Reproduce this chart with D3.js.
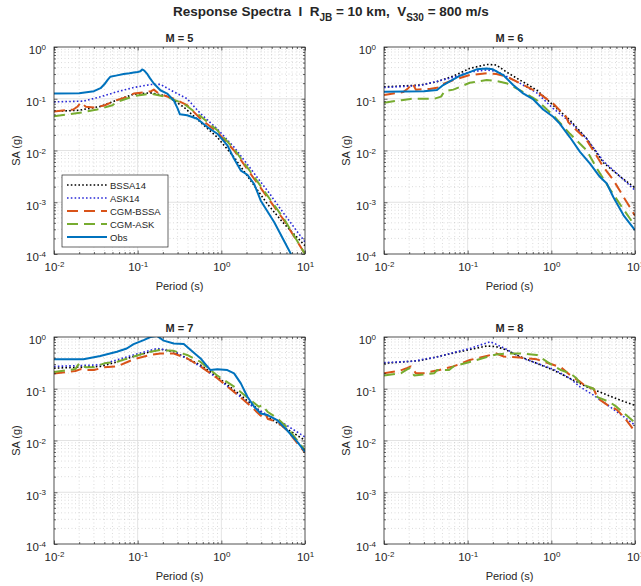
<!doctype html>
<html lang="en">
<head>
<meta charset="utf-8">
<title>Response Spectra</title>
<script src="https://d3js.org/d3.v7.min.js"></script>
<style>
  body { margin: 0; background: #fff; }
  text { font-family: "Liberation Sans", Arial, Helvetica, sans-serif; fill: #262626; }
</style>
</head>
<body>
<svg width="641" height="586"></svg>
<script>
// ---- data: [period (s), SA (g)] ----
var seriesNames = ['BSSA14', 'ASK14', 'CGM-BSSA', 'CGM-ASK', 'Obs'];
var panelTitles = ['M = 5', 'M = 6', 'M = 7', 'M = 8'];
var xTickExp = [-2, -1, 0, 1];
var yTickExp = [-4, -3, -2, -1, 0];

var bssa5 = [[0.01,0.057],[0.02,0.06],[0.0357,0.071],[0.0565,0.094],[0.0895,0.122],[0.142,0.13],[0.225,0.112],[0.356,0.069],[0.565,0.035],[0.895,0.018],[1.42,0.0074],[2.25,0.0026],[3.56,0.00092],[5.65,0.00038],[10,0.000145]];
var ask5 = [[0.01,0.087],[0.0225,0.09],[0.0357,0.109],[0.0565,0.136],[0.0895,0.165],[0.142,0.188],[0.187,0.19],[0.27,0.136],[0.39,0.1],[0.565,0.0515],[0.895,0.026],[1.42,0.0116],[2.25,0.0044],[3.56,0.00167],[5.65,0.00059],[10,0.00017]];
var cgmb5 = [[0.01,0.057],[0.017,0.062],[0.019,0.07],[0.021,0.085],[0.024,0.07],[0.03,0.068],[0.04,0.074],[0.047,0.083],[0.056,0.094],[0.07,0.105],[0.09,0.126],[0.125,0.135],[0.145,0.14],[0.156,0.15],[0.18,0.125],[0.27,0.1],[0.39,0.075],[0.565,0.041],[0.895,0.0227],[1.42,0.01],[2.25,0.0035],[3.56,0.00124],[5.65,0.00044],[10,0.0001]];
var cgma5 = [[0.01,0.046],[0.0225,0.055],[0.0357,0.064],[0.05,0.075],[0.0565,0.087],[0.0895,0.112],[0.142,0.126],[0.225,0.108],[0.356,0.08],[0.565,0.046],[0.895,0.0245],[1.42,0.0107],[2.25,0.0038],[3.56,0.00134],[5.65,0.00047],[10,0.0001]];
var obs5 = [[0.01,0.126],[0.02,0.128],[0.03,0.14],[0.036,0.16],[0.04,0.19],[0.044,0.235],[0.047,0.265],[0.055,0.28],[0.068,0.3],[0.08,0.31],[0.09,0.32],[0.1,0.33],[0.108,0.34],[0.113,0.368],[0.12,0.35],[0.129,0.307],[0.14,0.25],[0.156,0.197],[0.187,0.146],[0.225,0.126],[0.27,0.093],[0.3,0.065],[0.32,0.05],[0.39,0.048],[0.515,0.041],[0.68,0.0284],[0.895,0.0211],[1.18,0.0126],[1.42,0.0069],[1.71,0.0041],[2.05,0.0034],[2.47,0.00225],[2.96,0.00107],[4.29,0.00041],[6.79,0.0001],[10,0.00004]];

var bssa6 = [[0.01,0.17],[0.027,0.184],[0.043,0.213],[0.0675,0.275],[0.106,0.386],[0.169,0.46],[0.22,0.45],[0.29,0.33],[0.42,0.23],[0.67,0.147],[1.05,0.075],[1.67,0.0386],[2.64,0.017],[4.2,0.0058],[6.7,0.0031],[10,0.0019]];
var ask6 = [[0.01,0.165],[0.027,0.18],[0.0675,0.26],[0.106,0.33],[0.169,0.36],[0.22,0.34],[0.29,0.27],[0.42,0.2],[0.67,0.13],[1.05,0.065],[1.67,0.036],[2.64,0.017],[4.2,0.0062],[6.7,0.0031],[10,0.0017]];
var cgmb6 = [[0.01,0.118],[0.017,0.135],[0.0195,0.16],[0.022,0.198],[0.024,0.15],[0.035,0.155],[0.045,0.165],[0.05,0.19],[0.0675,0.23],[0.106,0.287],[0.169,0.31],[0.22,0.3],[0.29,0.27],[0.42,0.2],[0.67,0.137],[1.05,0.081],[1.5,0.045],[1.6,0.035],[2.64,0.016],[4.2,0.0048],[5.5,0.0027],[7.3,0.00127],[10,0.00055]];
var cgma6 = [[0.01,0.084],[0.017,0.095],[0.022,0.1],[0.03,0.1],[0.04,0.1],[0.048,0.11],[0.053,0.14],[0.0675,0.15],[0.106,0.204],[0.169,0.23],[0.22,0.22],[0.29,0.2],[0.42,0.147],[0.67,0.094],[1.05,0.048],[1.67,0.021],[2.64,0.0101],[3.5,0.0045],[5,0.0018],[7,0.0008],[10,0.00035]];
var obs6 = [[0.01,0.137],[0.03,0.14],[0.043,0.147],[0.051,0.184],[0.0675,0.237],[0.081,0.279],[0.097,0.31],[0.128,0.37],[0.169,0.386],[0.2,0.37],[0.266,0.287],[0.35,0.184],[0.46,0.127],[0.61,0.097],[0.8,0.062],[1.05,0.045],[1.26,0.033],[1.67,0.018],[2.2,0.0094],[2.9,0.0056],[3.8,0.0031],[4.6,0.0023],[5.5,0.00126],[7.3,0.00056],[10,0.00029]];

var bssa7 = [[0.01,0.25],[0.0357,0.27],[0.0565,0.33],[0.0895,0.42],[0.142,0.52],[0.187,0.58],[0.27,0.52],[0.39,0.386],[0.565,0.287],[0.895,0.17],[1.42,0.094],[2.25,0.052],[3.56,0.0287],[5.65,0.018],[10,0.0101]];
var ask7 = [[0.01,0.27],[0.0357,0.29],[0.0895,0.45],[0.17,0.6],[0.27,0.53],[0.565,0.27],[0.895,0.16],[1.42,0.088],[2.25,0.048],[3.56,0.031],[5.65,0.021],[10,0.0117]];
var cgmb7 = [[0.01,0.198],[0.018,0.22],[0.021,0.24],[0.024,0.23],[0.03,0.23],[0.04,0.26],[0.0565,0.27],[0.0895,0.37],[0.142,0.45],[0.187,0.48],[0.27,0.48],[0.39,0.386],[0.565,0.27],[0.895,0.16],[1.42,0.087],[2.25,0.046],[2.96,0.03],[3.3,0.035],[3.6,0.026],[4.65,0.023],[6.1,0.0158],[10,0.0058]];
var cgma7 = [[0.01,0.21],[0.018,0.24],[0.02,0.31],[0.024,0.26],[0.03,0.26],[0.04,0.31],[0.0565,0.33],[0.0895,0.42],[0.142,0.52],[0.187,0.56],[0.27,0.54],[0.39,0.45],[0.565,0.33],[0.895,0.18],[1.42,0.11],[2.25,0.06],[2.8,0.045],[3.1,0.048],[3.56,0.036],[4.65,0.027],[6.1,0.018],[10,0.0065]];
var obs7 = [[0.01,0.37],[0.0225,0.37],[0.0357,0.43],[0.0565,0.52],[0.074,0.6],[0.0895,0.73],[0.118,0.87],[0.142,1.0],[0.17,1.05],[0.205,0.85],[0.27,0.75],[0.356,0.73],[0.43,0.56],[0.565,0.386],[0.74,0.23],[0.895,0.237],[1.18,0.23],[1.42,0.198],[1.71,0.127],[2.05,0.07],[2.47,0.045],[2.96,0.0333],[3.56,0.031],[4.65,0.0248],[6.1,0.0158],[8.1,0.0094],[10,0.006]];

var bssa8 = [[0.01,0.31],[0.027,0.35],[0.0675,0.49],[0.106,0.57],[0.169,0.67],[0.22,0.65],[0.29,0.56],[0.42,0.42],[0.67,0.31],[1.05,0.23],[1.67,0.158],[2.64,0.109],[4.2,0.081],[6.7,0.06],[10,0.048]];
var ask8 = [[0.01,0.32],[0.0225,0.34],[0.027,0.36],[0.043,0.41],[0.0675,0.5],[0.106,0.6],[0.153,0.73],[0.185,0.81],[0.22,0.72],[0.29,0.58],[0.42,0.41],[0.67,0.31],[1.05,0.24],[1.67,0.158],[2.2,0.109],[3.2,0.075],[5,0.045],[7.3,0.029],[10,0.0198]];
var cgmb8 = [[0.01,0.2],[0.015,0.22],[0.0187,0.25],[0.021,0.27],[0.024,0.2],[0.03,0.2],[0.04,0.22],[0.046,0.23],[0.05,0.24],[0.0675,0.27],[0.106,0.36],[0.169,0.43],[0.22,0.48],[0.27,0.42],[0.42,0.4],[0.67,0.37],[1.05,0.29],[1.3,0.26],[1.67,0.184],[2.2,0.137],[2.64,0.109],[3.2,0.1],[3.6,0.065],[5,0.045],[6,0.04],[7.3,0.029],[10,0.0148]];
var cgma8 = [[0.01,0.18],[0.016,0.2],[0.02,0.25],[0.023,0.18],[0.03,0.19],[0.04,0.2],[0.043,0.23],[0.06,0.23],[0.0675,0.27],[0.106,0.33],[0.169,0.41],[0.22,0.46],[0.29,0.48],[0.42,0.48],[0.67,0.45],[0.95,0.31],[1.3,0.23],[1.67,0.2],[2.0,0.16],[2.2,0.127],[3.2,0.1],[3.56,0.069],[5,0.055],[6,0.045],[10,0.022]];

var panels = [
  {bssa: bssa5, ask: ask5, cgmb: cgmb5, cgma: cgma5, obs: obs5},
  {bssa: bssa6, ask: ask6, cgmb: cgmb6, cgma: cgma6, obs: obs6},
  {bssa: bssa7, ask: ask7, cgmb: cgmb7, cgma: cgma7, obs: obs7},
  {bssa: bssa8, ask: ask8, cgmb: cgmb8, cgma: cgma8, obs: null}
];

// ---- styles ----
var styles = {
  'BSSA14':   {key: 'bssa', color: '#000000', dash: '1.6,2.2', width: 1.6},
  'ASK14':    {key: 'ask',  color: '#2a2ad8', dash: '1.6,2.2', width: 1.6},
  'CGM-BSSA': {key: 'cgmb', color: '#D95319', dash: '11,6',    width: 2},
  'CGM-ASK':  {key: 'cgma', color: '#77AC30', dash: '11,6',    width: 2},
  'Obs':      {key: 'obs',  color: '#0072BD', dash: null,      width: 2}
};

var svg = d3.select('svg');
var W = 251, H = 207;
var origins = [[54, 47], [384, 47], [54, 337], [384, 337]];

// main title
var title = svg.append('text')
  .attr('x', 331).attr('y', 16)
  .attr('text-anchor', 'middle')
  .attr('xml:space', 'preserve')
  .style('white-space', 'pre')
  .style('font-size', '13.5px').style('font-weight', 'bold');
title.append('tspan').text('Response Spectra  I  R');
title.append('tspan').attr('dy', 5).style('font-size', '10px').text('JB');
title.append('tspan').attr('dy', -5).text(' = 10 km,  V');
title.append('tspan').attr('dy', 5).style('font-size', '10px').text('S30');
title.append('tspan').attr('dy', -5).text(' = 800 m/s');

var minorVals = [];
[-2, -1, 0].forEach(function(e){ for (var k = 2; k <= 9; k++) minorVals.push(k * Math.pow(10, e)); });
var minorYVals = [];
[-4, -3, -2, -1].forEach(function(e){ for (var k = 2; k <= 9; k++) minorYVals.push(k * Math.pow(10, e)); });

function powLabel(sel) {
  sel.each(function(d) {
    var t = d3.select(this);
    var e = Math.round(Math.log10(d));
    t.text(null);
    t.append('tspan').text('10');
    t.append('tspan').attr('dy', '-0.55em').style('font-size', '8px').text(e);
  });
}

panels.forEach(function(p, pi) {
  var g = svg.append('g').attr('transform', 'translate(' + origins[pi][0] + ',' + origins[pi][1] + ')');
  var x = d3.scaleLog().domain([0.01, 10]).range([0, W]);
  var y = d3.scaleLog().domain([1e-4, 1]).range([H, 0]);

  // grid
  var grid = g.append('g');
  grid.selectAll('.mgx').data(minorVals).enter().append('line')
    .attr('x1', x).attr('x2', x).attr('y1', 0).attr('y2', H)
    .attr('stroke', '#c4c4c4').attr('stroke-width', 0.6).attr('stroke-dasharray', '1,2.5');
  grid.selectAll('.mgy').data(minorYVals).enter().append('line')
    .attr('y1', y).attr('y2', y).attr('x1', 0).attr('x2', W)
    .attr('stroke', '#c4c4c4').attr('stroke-width', 0.6).attr('stroke-dasharray', '1,2.5');
  grid.selectAll('.gx').data([0.1, 1]).enter().append('line')
    .attr('x1', x).attr('x2', x).attr('y1', 0).attr('y2', H)
    .attr('stroke', '#dcdcdc').attr('stroke-width', 0.8);
  grid.selectAll('.gy').data([1e-3, 1e-2, 1e-1]).enter().append('line')
    .attr('y1', y).attr('y2', y).attr('x1', 0).attr('x2', W)
    .attr('stroke', '#dcdcdc').attr('stroke-width', 0.8);

  // lines
  var clipId = 'clip' + pi;
  g.append('clipPath').attr('id', clipId).append('rect').attr('width', W).attr('height', H);
  var line = d3.line().x(function(d){ return x(d[0]); }).y(function(d){ return y(d[1]); });
  var lines = g.append('g').attr('clip-path', 'url(#' + clipId + ')');
  seriesNames.forEach(function(name) {
    var st = styles[name];
    var data = p[st.key];
    if (!data) return;
    lines.append('path').datum(data)
      .attr('d', line)
      .attr('fill', 'none')
      .attr('stroke', st.color)
      .attr('stroke-width', st.width)
      .attr('stroke-dasharray', st.dash)
      .attr('stroke-linejoin', 'round');
  });

  // axes (ticks inward on all sides)
  var xVals = xTickExp.map(function(e){ return Math.pow(10, e); });
  var yVals = yTickExp.map(function(e){ return Math.pow(10, e); });
  var axCol = '#262626';

  var xb = g.append('g').attr('transform', 'translate(0,' + H + ')')
    .call(d3.axisBottom(x).tickValues(xVals).tickSizeInner(-3.5).tickSizeOuter(0).tickPadding(9));
  xb.selectAll('text').style('font-size', '11.5px').call(powLabel);
  g.append('g').attr('transform', 'translate(0,' + H + ')')
    .call(d3.axisBottom(x).tickValues(minorVals).tickSize(-2).tickFormat(''));
  g.append('g').call(d3.axisTop(x).tickValues(xVals).tickSize(-3.5).tickFormat(''));
  g.append('g').call(d3.axisTop(x).tickValues(minorVals).tickSize(-2).tickFormat(''));

  var yl = g.append('g')
    .call(d3.axisLeft(y).tickValues(yVals).tickSizeInner(-3.5).tickSizeOuter(0).tickPadding(8));
  yl.selectAll('text').style('font-size', '11.5px').attr('dy', '0.6em').call(powLabel);
  g.append('g').call(d3.axisLeft(y).tickValues(minorYVals).tickSize(-2).tickFormat(''));
  g.append('g').attr('transform', 'translate(' + W + ',0)')
    .call(d3.axisRight(y).tickValues(yVals).tickSize(-3.5).tickFormat(''));
  g.append('g').attr('transform', 'translate(' + W + ',0)')
    .call(d3.axisRight(y).tickValues(minorYVals).tickSize(-2).tickFormat(''));

  g.selectAll('.domain').remove();
  g.selectAll('.tick line').attr('stroke', axCol).attr('stroke-width', 0.7);
  g.append('rect').attr('width', W).attr('height', H)
    .attr('fill', 'none').attr('stroke', axCol).attr('stroke-width', 0.8);

  // labels
  g.append('text').attr('x', W / 2).attr('y', -5).attr('text-anchor', 'middle')
    .style('font-size', '11px').style('font-weight', 'bold').text(panelTitles[pi]);
  g.append('text').attr('x', W / 2).attr('y', H + 36).attr('text-anchor', 'middle')
    .style('font-size', '11px').text('Period (s)');
  g.append('text').attr('transform', 'translate(-34,' + (H / 2) + ') rotate(-90)')
    .attr('text-anchor', 'middle').style('font-size', '11px').text('SA (g)');

  // legend in first panel
  if (pi === 0) {
    var lg = g.append('g').attr('transform', 'translate(8,128)');
    lg.append('rect').attr('width', 106).attr('height', 72)
      .attr('fill', '#fff').attr('stroke', axCol).attr('stroke-width', 0.7);
    seriesNames.forEach(function(name, i) {
      var st = styles[name];
      var yy = 10 + i * 13;
      lg.append('line').attr('x1', 5).attr('x2', 45).attr('y1', yy).attr('y2', yy)
        .attr('stroke', st.color).attr('stroke-width', st.width)
        .attr('stroke-dasharray', st.dash);
      lg.append('text').attr('x', 48).attr('y', yy + 3.5)
        .style('font-size', '9.5px').text(name);
    });
  }
});
</script>
</body>
</html>
